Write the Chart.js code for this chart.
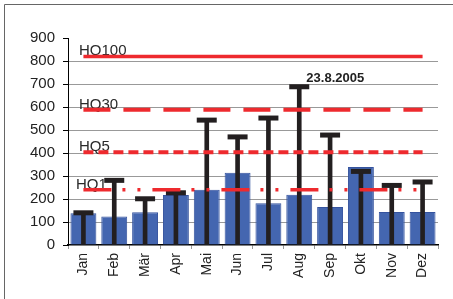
<!DOCTYPE html>
<html>
<head>
<meta charset="utf-8">
<script src="https://cdn.jsdelivr.net/npm/chart.js@4"></script>
<style>
    html, body { margin: 0; padding: 0; background: #fff; }
    #wrap { position: relative; width: 453px; height: 299px; }
</style>
</head>
<body>
<div id="wrap"><canvas id="myChart" width="453" height="299"></canvas></div>
<script>
// monthly values
const months = ['Jan', 'Feb', 'Mär', 'Apr', 'Mai', 'Jun', 'Jul', 'Aug', 'Sep', 'Okt', 'Nov', 'Dez'];
const meanValues = [138, 124, 142, 217, 240, 314, 181, 219, 165, 339, 144, 144];
const maxValues = [140, 281, 201, 227, 543, 470, 552, 688, 478, 320, 259, 274];

// flood thresholds
const hqLabels = ['HQ100', 'HQ30', 'HQ5', 'HQ1'];
const hqValues = [820, 588, 403, 240];
const hqDashes = [[], [27, 13], [10, 5], [28, 11, 3, 12, 3, 12]];
const hqWidths = [3.5, 4, 4, 3.5];

const yTicks = [0, 100, 200, 300, 400, 500, 600, 700, 800, 900];
const peakLabel = '23.8.2005';
const peakMonth = 'Aug';

const red = '#ee2a2e';
const black = '#231f20';
const font = "'Liberation Sans', Arial, sans-serif";

const hqDatasets = hqValues.map((v, i) => ({
    type: 'line',
    label: hqLabels[i],
    data: [{ x: months[0], y: v }, { x: months[months.length - 1], y: v }],
    borderColor: red,
    borderWidth: hqWidths[i],
    borderDash: hqDashes[i],
    pointRadius: 0,
    fill: false,
    order: 0
}));

const labelPlugin = {
    id: 'labels',
    beforeDatasetsDraw(chart) {
        const ctx = chart.ctx;
        const y = chart.scales.y;
        ctx.save();
        ctx.fillStyle = '#2a2a2a';
        ctx.font = '15px ' + font;
        ctx.textAlign = 'left';
        ctx.textBaseline = 'alphabetic';
        hqLabels.forEach((t, i) => {
            const lx = i === 3 ? 76 : 79;
            ctx.fillText(t, lx, y.getPixelForValue(hqValues[i]) - 1);
        });
        ctx.restore();
    },
    afterDraw(chart) {
        const ctx = chart.ctx;
        const y = chart.scales.y;
        const x = chart.scales.x;
        ctx.save();
        // frame
        ctx.strokeStyle = '#666';
        ctx.lineWidth = 1;
        ctx.beginPath();
        ctx.moveTo(4.5, 299);
        ctx.lineTo(4.5, 4.5);
        ctx.lineTo(453, 4.5);
        ctx.stroke();

        const pi = months.indexOf(peakMonth);
        ctx.font = 'bold 13px ' + font;
        ctx.textAlign = 'center';
        ctx.fillStyle = '#222';
        ctx.fillText(peakLabel, x.getPixelForValue(pi) + 36, y.getPixelForValue(maxValues[pi]) - 5);
        ctx.restore();
    }
};

document.addEventListener('DOMContentLoaded', function () {
    const ctx = document.getElementById('myChart');

    new Chart(ctx, {
        data: {
            labels: months,
            datasets: [
                ...hqDatasets,
                {
                    type: 'line',
                    label: 'Max',
                    data: maxValues,
                    showLine: false,
                    pointStyle: 'line',
                    pointRadius: 10,
                    pointBorderWidth: 5,
                    pointBorderColor: black,
                    pointBackgroundColor: black,
                    order: 1
                },
                {
                    type: 'bar',
                    label: 'Stem',
                    data: maxValues.map(v => [0, v]),
                    backgroundColor: black,
                    barThickness: 4,
                    grouped: false,
                    order: 2
                },
                {
                    type: 'bar',
                    label: 'Mittel',
                    data: meanValues,
                    backgroundColor: '#4466b0',
                    borderColor: '#35539e',
                    borderWidth: 1,
                    barPercentage: 0.84,
                    categoryPercentage: 1.0,
                    grouped: false,
                    order: 3
                }
            ]
        },
        options: {
            responsive: false,
            animation: false,
            layout: { padding: { left: 0, right: 15, top: 38, bottom: 0 } },
            plugins: {
                legend: { display: false },
                tooltip: { enabled: false }
            },
            scales: {
                x: {
                    type: 'category',
                    offset: true,
                    afterFit(scale) { scale.height = 54; },
                    grid: {
                        offset: true,
                        drawOnChartArea: false,
                        tickLength: 4,
                        tickColor: '#999'
                    },
                    border: { color: '#000', width: 1.5 },
                    ticks: {
                        minRotation: 90,
                        maxRotation: 90,
                        padding: 4,
                        color: '#222',
                        font: { family: font, size: 14 }
                    }
                },
                y: {
                    type: 'linear',
                    min: yTicks[0],
                    max: yTicks[yTicks.length - 1],
                    afterFit(scale) { scale.width = 68; },
                    afterBuildTicks(scale) { scale.ticks = yTicks.map(v => ({ value: v })); },
                    grid: {
                        color: c => (c.tick && (c.tick.value === 0 || c.tick.value === 900)) ? 'rgba(0,0,0,0)' : '#999',
                        tickColor: '#000',
                        tickLength: 5,
                        lineWidth: 1
                    },
                    border: { color: '#000', width: 1 },
                    ticks: {
                        padding: 8,
                        color: '#222',
                        font: { family: font, size: 15 }
                    }
                }
            }
        },
        plugins: [labelPlugin]
    });
});
</script>
</body>
</html>
